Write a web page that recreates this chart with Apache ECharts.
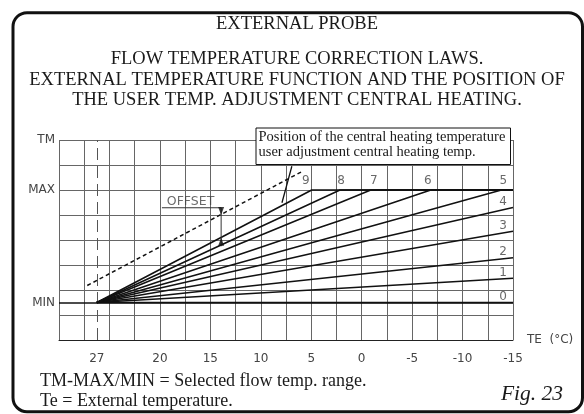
<!DOCTYPE html>
<html><head><meta charset="utf-8">
<script src="https://cdn.jsdelivr.net/npm/echarts@6/dist/echarts.min.js"></script>
<style>html,body{margin:0;padding:0;background:#fff}#c{width:584px;height:414px}</style>
</head><body><div id="c"></div>
<script>
// ---- data ----
const titleLines = ['EXTERNAL PROBE','FLOW TEMPERATURE CORRECTION LAWS.','EXTERNAL TEMPERATURE FUNCTION AND THE POSITION OF','THE USER TEMP. ADJUSTMENT CENTRAL HEATING.'];
const xTickValues = [26.25, 20, 15, 10, 5, 0, -5, -10, -15];
const xTickLabels = ['27', '20', '15', '10', '5', '0', '-5', '-10', '-15'];
const yTickValues = [8, 6, 1.5];
const yTickLabels = ['TM', 'MAX', 'MIN'];
const lawNames = ['0','1','2','3','4','5','6','7','8','9'];
const lawStartTe = 26.25;
const tmMin = 1.5;
const tmMax = 6;
const lawEndTe = [-15, -15, -15, -15, -15, -13.85, -6.85, -0.9, 2.15, 4.95];
const lawEndTm = [1.5, 2.47, 3.29, 4.35, 5.3, 6, 6, 6, 6, 6];
const offsetLineTe = [27.2, 5.77];
const offsetLineTm = [2.18, 6.77];
const leaderTe = [7.9, 6.92];
const leaderTm = [5.49, 6.95];
const offsetDimTe = [19.8, 13.93, 13.93];
const offsetDimTm = [5.29, 5.29, 3.75];
const offsetArrowTe = [13.93, 13.93];
const offsetArrowTm = [5.16, 3.93];
const offsetTextPos = [16.96, 5.55];
const boxLines = ['Position of the central heating temperature', 'user adjustment central heating temp.'];
const noteLines = ['TM-MAX/MIN = Selected flow temp. range.', 'Te = External temperature.'];
const figLabel = 'Fig. 23';

// ---- build ----
const TE_MIN = -15, TE_MAX = 30;
const cad = '"DejaVu Sans", sans-serif';
const serif = '"Liberation Serif", "DejaVu Serif", serif';
const INK = '#111';
const GRID = '#666';
// label nudges (style only)
const lawLabelDx = [-10, -10, -10, -10, -10, 2, -3, 3, 1, -6];

const series = [];
lawNames.forEach((n, i) => {
  const pts = [[lawStartTe, tmMin], [lawEndTe[i], lawEndTm[i]]];
  if (lawEndTm[i] >= tmMax && lawEndTe[i] > TE_MIN) pts.push([TE_MIN, tmMax]);
  const s = {
    type: 'line', name: 'law ' + n, data: pts, symbol: 'none', silent: true,
    lineStyle: { color: INK, width: 1.6 }, z: 5
  };
  if (i === 0) {
    s.markLine = {
      silent: true, symbol: 'none', label: { show: false },
      data: [
        { yAxis: tmMin, lineStyle: { color: INK, width: 1.6, type: 'solid' } },
        { xAxis: lawStartTe, lineStyle: { color: '#555', width: 1, type: [12, 6] } }
      ]
    };
  }
  series.push(s);
});
// labels for the laws
series.push({
  type: 'scatter', silent: true, symbol: 'circle', symbolSize: 1,
  itemStyle: { color: 'rgba(0,0,0,0)' }, z: 6,
  data: lawNames.map((n, i) => ({
    value: [lawEndTe[i], lawEndTm[i]],
    label: {
      show: true, formatter: n, position: 'top',
      distance: i < 5 ? -1 : 3, offset: [lawLabelDx[i], 0],
      color: '#444', fontFamily: cad, fontSize: 12
    }
  }))
});
// dashed offset line
series.push({
  type: 'line', silent: true, symbol: 'none', z: 5,
  data: offsetLineTe.map((t, i) => [t, offsetLineTm[i]]),
  lineStyle: { color: INK, width: 1.5, type: [4, 3] }
});
// leader line
series.push({
  type: 'line', silent: true, symbol: 'none', z: 5,
  data: leaderTe.map((t, i) => [t, leaderTm[i]]),
  lineStyle: { color: INK, width: 1.3 }
});
// offset dimension
series.push({
  type: 'line', silent: true, symbol: 'none', z: 5,
  data: offsetDimTe.map((t, i) => [t, offsetDimTm[i]]),
  lineStyle: { color: '#333', width: 1 }
});
series.push({
  type: 'scatter', silent: true, symbol: 'triangle', symbolSize: [6, 8], z: 6,
  itemStyle: { color: INK },
  data: [
    { value: [offsetArrowTe[0], offsetArrowTm[0]], symbolRotate: 180 },
    { value: [offsetArrowTe[1], offsetArrowTm[1]], symbolRotate: 0 }
  ]
});
series.push({
  type: 'scatter', silent: true, symbol: 'circle', symbolSize: 1, z: 6,
  itemStyle: { color: 'rgba(0,0,0,0)' },
  data: [{ value: offsetTextPos, label: { show: true, formatter: 'OFFSET', position: 'inside', color: '#444', fontFamily: cad, fontSize: 12.5 } }]
});

const titleY = [24, 59, 80, 100.5];
const graphic = [
  { type: 'rect', silent: true, z: 100, shape: { x: 13, y: 12.7, width: 569.5, height: 399, r: 14 },
    style: { fill: 'none', stroke: INK, lineWidth: 3 } },
  { type: 'rect', silent: true, z: 100, shape: { x: 256, y: 128, width: 254.5, height: 36.5 },
    style: { fill: '#fff', stroke: INK, lineWidth: 1 } }
];
titleLines.forEach((t, i) => graphic.push({
  type: 'text', silent: true, z: 100,
  style: { text: t, x: 297, y: titleY[i], align: 'center', textAlign: 'center', verticalAlign: 'middle', textVerticalAlign: 'middle',
    font: '18.5px ' + serif, fill: '#1a1a1a' }
}));
boxLines.forEach((t, i) => graphic.push({
  type: 'text', silent: true, z: 101,
  style: { text: t, x: 258.5, y: 137.5 + i * 15, align: 'left', textAlign: 'left', verticalAlign: 'middle', textVerticalAlign: 'middle',
    font: '14.5px ' + serif, fill: '#1a1a1a' }
}));
noteLines.forEach((t, i) => graphic.push({
  type: 'text', silent: true, z: 100,
  style: { text: t, x: 40, y: 381 + i * 20.5, align: 'left', textAlign: 'left', verticalAlign: 'middle', textVerticalAlign: 'middle',
    font: '18px ' + serif, fill: '#1a1a1a' }
}));
graphic.push({
  type: 'text', silent: true, z: 100,
  style: { text: figLabel, x: 563, y: 394, align: 'right', textAlign: 'right', verticalAlign: 'middle', textVerticalAlign: 'middle',
    font: 'italic 21.5px ' + serif, fill: '#1a1a1a' }
});

const chart = echarts.init(document.getElementById('c'), null, { renderer: 'canvas' });
chart.setOption({
  animation: false,
  backgroundColor: '#fff',
  grid: { left: 59, top: 140, width: 454, height: 200, containLabel: false, outerBoundsMode: 'none' },
  xAxis: {
    type: 'value', inverse: true, min: TE_MIN, max: TE_MAX, interval: 2.5,
    name: 'TE  (°C)', nameLocation: 'start', nameGap: 14,
    nameTextStyle: { color: '#444', fontFamily: cad, fontSize: 12, verticalAlign: 'middle' },
    axisLine: { show: true, lineStyle: { color: '#222', width: 1 } },
    axisTick: { show: false },
    splitLine: { show: true, lineStyle: { color: GRID, width: 1 } },
    axisLabel: {
      customValues: xTickValues, margin: 13, color: '#444', fontFamily: cad, fontSize: 12,
      formatter: v => { const k = xTickValues.indexOf(v); return k >= 0 ? xTickLabels[k] : ''; }
    }
  },
  yAxis: {
    type: 'value', min: 0, max: 8, interval: 1,
    axisLine: { show: false }, axisTick: { show: false },
    splitLine: { show: true, lineStyle: { color: GRID, width: 1 } },
    axisLabel: {
      customValues: yTickValues, margin: 4, color: '#444', fontFamily: cad, fontSize: 12,
      formatter: v => { const k = yTickValues.indexOf(v); return k >= 0 ? yTickLabels[k] : ''; }
    }
  },
  series: series,
  graphic: graphic
});
</script>
</body></html>
